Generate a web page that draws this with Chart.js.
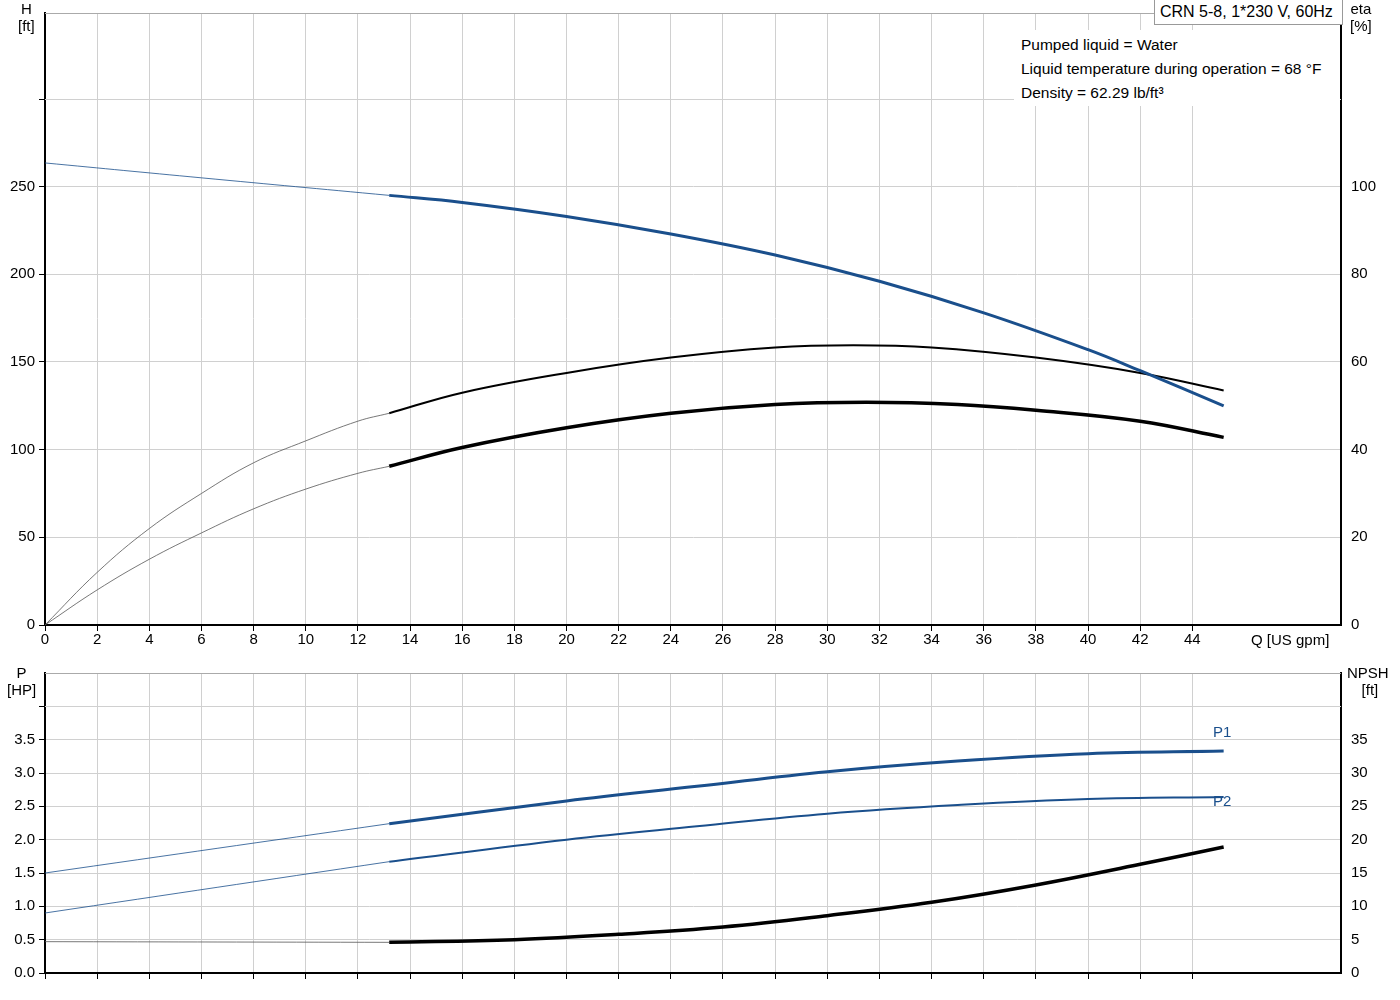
<!DOCTYPE html>
<html><head><meta charset="utf-8">
<script src="https://cdn.jsdelivr.net/npm/chart.js@4.4.0/dist/chart.umd.min.js"></script>
<style>
body{margin:0;background:#fff;font-family:"Liberation Sans",Arial,sans-serif;}
#wrap{position:relative;width:1400px;height:1000px;}
canvas{position:absolute;left:0;}
.t{position:absolute;font-size:15px;color:#000;line-height:17px;white-space:nowrap;}
</style></head><body>
<div id="wrap">
<canvas id="c1" style="top:0" width="1400" height="660"></canvas>
<canvas id="c2" style="top:660px" width="1400" height="340"></canvas>
<div class="t" style="left:18px;top:0px;text-align:center">H<br>[ft]</div>
<div class="t" style="left:1350px;top:0px;text-align:center">eta<br>[%]</div>
<div class="t" style="left:1251px;top:631px">Q [US gpm]</div>
<div class="t" style="left:1154px;top:0px;width:177px;font-size:16px;border:1px solid #999;border-top:none;background:#fff;padding:3px 5px 4px 5px;">CRN 5-8, 1*230 V, 60Hz</div>
<div style="position:absolute;left:1014px;top:30px;width:326px;height:76px;background:#fff"></div>
<div class="t" style="left:1021px;top:36px;font-size:15.5px">Pumped liquid = Water</div>
<div class="t" style="left:1021px;top:60px;font-size:15.5px">Liquid temperature during operation = 68 °F</div>
<div class="t" style="left:1021px;top:84px;font-size:15.5px">Density = 62.29 lb/ft³</div>
<div class="t" style="left:7px;top:664px;text-align:center">P<br>[HP]</div>
<div class="t" style="left:1347px;top:664px;text-align:center">NPSH<br>&nbsp;[ft]</div>
<div class="t" style="left:1213px;top:723px;color:#1a4f8c">P1</div>
<div class="t" style="left:1213px;top:792px;color:#1a4f8c">P2</div>
</div>
<script>
const qTicks=[0,2,4,6,8,10,12,14,16,18,20,22,24,26,28,30,32,34,36,38,40,42,44];
const hThin=[[0,263.5],[6,255],[13.2,245]];
const hThick=[[13.2,245],[16,241],[20,233],[24,223],[28,211],[32,196],[36,178],[40,157],[42,145],[45.2,125]];
const eta1Thin=[[0,0],[2,12],[4,22],[6,30],[8,37],[10,42],[12,46.5],[13.2,48.3]];
const eta1Thick=[[13.2,48.3],[16,53],[20,57.5],[24,61],[28,63.3],[31,63.8],[34,63.3],[38,61],[42,57.5],[45.2,53.5]];
const eta2Thin=[[0,0],[2,8],[4,15],[6,21],[8,26.5],[10,31],[12,34.6],[13.2,36.2]];
const eta2Thick=[[13.2,36.2],[16,40.5],[20,45],[24,48.3],[28,50.3],[31.5,50.8],[35,50.3],[38,49],[42,46.5],[45.2,42.8]];
const p1Thin=[[0,1.5],[13.2,2.24]];
const p1Thick=[[13.2,2.24],[20,2.58],[25,2.8],[30,3.02],[35,3.18],[40,3.29],[45.2,3.33]];
const p2Thin=[[0,0.9],[13.2,1.67]];
const p2Thick=[[13.2,1.67],[20,2.0],[25,2.2],[30,2.39],[35,2.52],[40,2.61],[45.2,2.64]];
const npshThin=[[0,4.7],[13.2,4.6]];
const npshThick=[[13.2,4.6],[18,5.0],[22,5.8],[26,6.9],[30,8.6],[34,10.6],[38,13.2],[42,16.3],[45.2,18.9]];

const BLUE='#1a4f8c';
const pts=a=>a.map(p=>({x:p[0],y:p[1]}));
const ds=(d,c,w,ax)=>({data:pts(d),borderColor:c,borderWidth:w,pointRadius:0,tension:0.4,yAxisID:ax,fill:false});
Chart.defaults.font.family='"Liberation Sans", Arial, sans-serif';
Chart.defaults.font.size=15;
Chart.defaults.color='#000';
const grid='#d0d0d0';
function xScale(showLabels,h){
 return {type:'linear',min:0,max:49.7,afterBuildTicks:s=>{s.ticks=qTicks.map(v=>({value:v}));},
  ticks:{autoSkip:false,maxRotation:0,padding:0,callback:v=>showLabels?String(v):''},
  grid:{color:grid,tickColor:'#000',tickLength:6,drawTicks:true},border:{color:'#000',width:2},
  afterFit:s=>{s.height=h;}};
}
function yScale(pos,max,step,lim,fmt,w,gridOn){
 return {type:'linear',position:pos,min:0,max:max,
  afterBuildTicks:s=>{const t=[];for(let v=0;v<=lim+1e-9;v+=step)t.push({value:+v.toFixed(2)});s.ticks=t;},
  ticks:{padding:4,callback:v=>fmt(v)},
  grid:{display:gridOn,color:grid,tickColor:'#000',tickLength:6},border:{color:'#000',width:2},
  afterFit:s=>{s.width=w;}};
}
function extra(axis,val){return {id:'extra'+axis,beforeDatasetsDraw(c){const a=c.chartArea,x=c.ctx,y=Math.round(c.scales[axis].getPixelForValue(val))+0.5;x.save();
 x.strokeStyle=grid;x.lineWidth=1;x.beginPath();x.moveTo(a.left,y);x.lineTo(a.right,y);x.stroke();
 x.strokeStyle='#000';x.beginPath();x.moveTo(a.left-6,y);x.lineTo(a.left,y);x.stroke();
 x.strokeStyle='#aaa';x.beginPath();x.moveTo(a.left,a.top+0.5);x.lineTo(a.right,a.top+0.5);x.stroke();x.restore();}};}
const common={responsive:false,animation:false,plugins:{legend:{display:false},tooltip:{enabled:false}}};
new Chart(document.getElementById('c1'),{type:'line',
 data:{datasets:[ds(hThin,BLUE,0.8,'yH'),ds(hThick,BLUE,3,'yH'),
  ds(eta1Thin,'#555',0.8,'yE'),ds(eta1Thick,'#000',2,'yE'),
  ds(eta2Thin,'#555',0.8,'yE'),ds(eta2Thick,'#000',3.5,'yE')]},
 options:{...common,layout:{padding:{top:0,right:0,left:0,bottom:0}},
  scales:{x:xScale(true,35),
   yH:yScale('left',349,50,250,v=>String(v),45,true),
   yE:yScale('right',139.6,20,100,v=>String(v),59,false)}},
 plugins:[extra('yH',300)]});
new Chart(document.getElementById('c2'),{type:'line',
 data:{datasets:[ds(p1Thin,BLUE,0.8,'yP'),ds(p1Thick,BLUE,3,'yP'),
  ds(p2Thin,BLUE,0.8,'yP'),ds(p2Thick,BLUE,2,'yP'),
  ds(npshThin,'#555',0.8,'yN'),ds(npshThick,'#000',3.5,'yN')]},
 options:{...common,layout:{padding:{top:5,right:0,left:0,bottom:0}},
  scales:{x:xScale(false,27),
   yP:yScale('left',4.5,0.5,3.5,v=>v.toFixed(1),45,true),
   yN:yScale('right',45,5,35,v=>String(v),59,false)}},
 plugins:[extra('yP',4.0)]});
</script>
</body></html>
